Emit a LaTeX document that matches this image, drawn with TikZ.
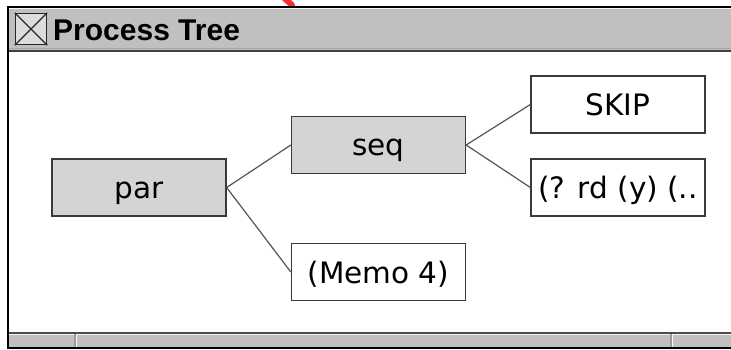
\documentclass[tikz,border=0pt]{standalone}
\usepackage{fontspec}
\setmainfont{DejaVu Sans}
\newfontfamily\titlefont{Liberation Sans}
\definecolor{bargray}{HTML}{C0C0C0}
\definecolor{opfill}{HTML}{D4D4D4}
\definecolor{boxline}{HTML}{3A3A3A}
\definecolor{edgeline}{HTML}{555555}
\definecolor{closefill}{HTML}{DCDCDC}
\definecolor{markred}{HTML}{F0303A}
\tikzset{
  treebox/.style={draw=boxline, line width=1.3pt, minimum width=174pt,
    minimum height=57pt, inner sep=0pt, text height=22pt, text depth=0pt,
    font=\fontsize{29.5}{33}\selectfont},
  opbox/.style={treebox, fill=opfill},
  leafbox/.style={treebox, fill=white},
  branch/.style={draw=edgeline, line width=1.2pt},
}
\begin{document}
\begin{tikzpicture}[x=1pt, y=-1pt]
\useasboundingbox (0,0) rectangle (731,350);
\fill[white] (0,0) rectangle (731,350);

% red stroke above the window
\begin{scope}
\clip (0,0) rectangle (731,7);
\draw[markred, line width=6pt, line cap=round] (282,-4) -- (292,5);
\end{scope}

% title bar
\fill[bargray] (8,7) rectangle (731,51);
\draw[white!85!bargray, line width=1pt] (9,8.5) -- (731,8.5);
\draw[gray!70, line width=1pt] (9,48.5) -- (731,48.5);
\draw[black!75, line width=2pt] (8,51) -- (731,51);

% close box
\node[draw=black!85, line width=1.3pt, fill=closefill, minimum width=31pt,
  minimum height=31pt, inner sep=0pt] (close) at (31,29) {};
\draw[black!85, line width=1.3pt] (close.north west) -- (close.south east)
  (close.north east) -- (close.south west);
\node[anchor=base west, inner sep=0pt,
  font=\titlefont\bfseries\fontsize{30}{33}\selectfont] (title) at (53,40.5) {Process Tree};

% status bar
\fill[bargray] (8,333) rectangle (731,348);
\draw[black!70, line width=1.2pt] (8,333) -- (731,333);
\draw[white!80!bargray, line width=1pt] (9,334.5) -- (731,334.5);
\draw[gray!80, line width=1.2pt] (75,334) -- (75,347) (671,334) -- (671,347);
\draw[white!90!bargray, line width=1.2pt] (76.5,334) -- (76.5,347) (672.5,334) -- (672.5,347);

% window frame
\draw[black, line width=2pt] (731,7) -- (8,7) -- (8,348) -- (731,348);

% tree
\node[opbox] (par) at (139,187.5) {par};
\node[opbox] (seq) at (378.5,145) {seq};
\node[leafbox] (memo) at (378.5,272) {(Memo 4)};
\node[leafbox] (skip) at (618,104.5) {SKIP};
\node[leafbox] (rd) at (618,187.5) {(? rd (y) (..};

\path[branch] (par.east) -- (seq.west);
\path[branch] (par.east) -- (memo.west);
\path[branch] (seq.east) -- (skip.west);
\path[branch] (seq.east) -- (rd.west);
\end{tikzpicture}
\end{document}
